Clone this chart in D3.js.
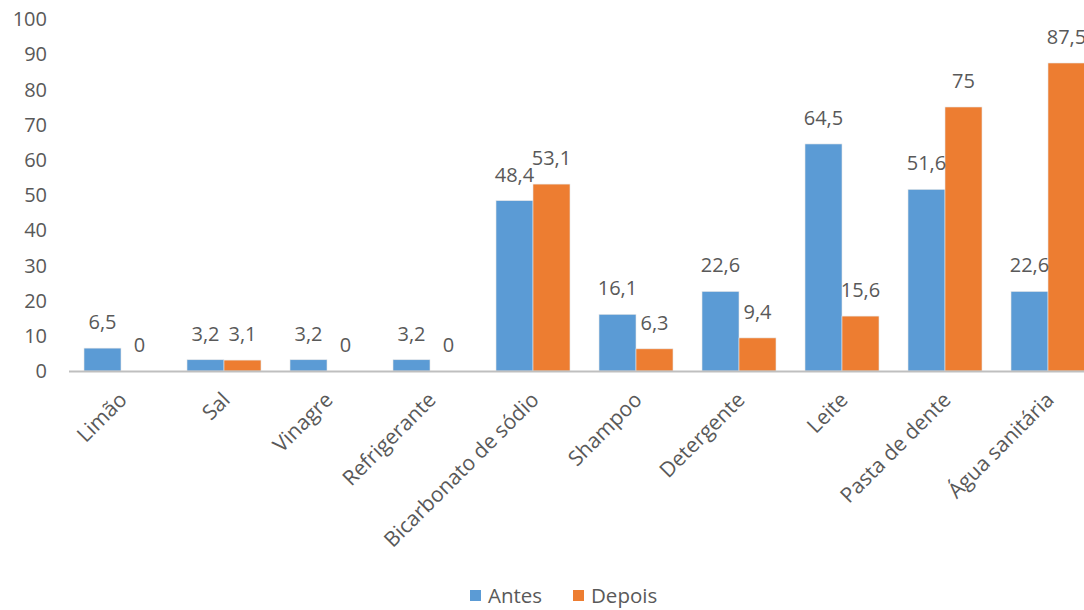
<!DOCTYPE html>
<html>
<head>
<meta charset="utf-8">
<script src="https://cdn.jsdelivr.net/npm/d3@7"></script>
<style>
  html, body { margin: 0; padding: 0; background: #fff; }
  svg { display: block; }
  text { font-family: "Open Sans", sans-serif; fill: #595959; }
</style>
</head>
<body>
<svg id="chart" width="1084" height="610"></svg>
<script>
const categories = ["Limão", "Sal", "Vinagre", "Refrigerante", "Bicarbonato de sódio", "Shampoo", "Detergente", "Leite", "Pasta de dente", "Água sanitária"];
const antes = [6.5, 3.2, 3.2, 3.2, 48.4, 16.1, 22.6, 64.5, 51.6, 22.6];
const depois = [0, 3.1, 0, 0, 53.1, 6.3, 9.4, 15.6, 75, 87.5];
const seriesNames = ["Antes", "Depois"];
const seriesColors = ["#5B9BD5", "#ED7D31"];
const yTicks = [0, 10, 20, 30, 40, 50, 60, 70, 80, 90, 100];

const svg = d3.select("#chart");
const fmt = v => String(v).replace(".", ",");

const xGroup = d3.scaleBand().domain(categories).range([69.5, 1099.5]).padding(0);
const xSub = d3.scaleBand().domain(seriesNames).range([0, xGroup.bandwidth()]).paddingInner(0).paddingOuter(0.392);
const y = d3.scaleLinear().domain([0, 100]).range([371, 19]);

// y axis labels
svg.append("g").selectAll("text").data(yTicks).join("text")
  .attr("x", 47).attr("y", d => y(d)).attr("dy", "0.36em")
  .attr("text-anchor", "end").style("font-size", "20px").text(d => d);

const data = categories.map((c, i) => ({c, vals: [antes[i], depois[i]]}));

const groups = svg.append("g").selectAll("g").data(data).join("g")
  .attr("transform", d => `translate(${xGroup(d.c)},0)`);

groups.selectAll("rect").data(d => d.vals.map((v, j) => ({v, s: seriesNames[j], j}))).join("rect")
  .attr("x", d => xSub(d.s)).attr("width", xSub.bandwidth())
  .attr("y", d => y(d.v)).attr("height", d => y(0) - y(d.v))
  .attr("fill", d => seriesColors[d.j])
  .attr("stroke", "#e8e8e8").attr("stroke-width", 0.6);

groups.selectAll("text.lbl").data(d => d.vals.map((v, j) => ({v, s: seriesNames[j], j}))).join("text")
  .attr("class", "lbl")
  .attr("x", d => xSub(d.s) + xSub.bandwidth() / 2)
  .attr("y", d => y(d.v) - 19)
  .attr("text-anchor", "middle").style("font-size", "20px")
  .text(d => fmt(d.v));

// baseline
svg.append("line").attr("x1", 69).attr("x2", 1084).attr("y1", y(0) + 0.5).attr("y2", y(0) + 0.5)
  .attr("stroke", "#bfbfbf").attr("stroke-width", 2);

// x labels
svg.append("g").selectAll("text").data(categories).join("text")
  .attr("transform", d => `translate(${xGroup(d) + xGroup.bandwidth() / 2 - 4},${390}) rotate(-45)`)
  .attr("text-anchor", "end").attr("dy", "0.75em").style("font-size", "21px")
  .text(d => d);

// legend
const legendX = [470, 573];
const leg = svg.append("g").selectAll("g").data(seriesNames).join("g")
  .attr("transform", (d, i) => `translate(${legendX[i]},590)`);
leg.append("rect").attr("width", 11).attr("height", 11).attr("fill", (d, i) => seriesColors[i]);
leg.append("text").attr("x", 18).attr("y", 5.5).attr("dy", "0.36em").style("font-size", "20.5px").text(d => d);
</script>
</body>
</html>
